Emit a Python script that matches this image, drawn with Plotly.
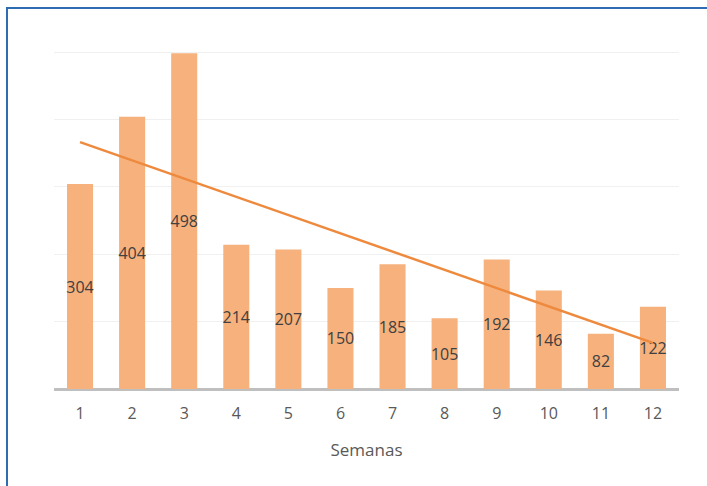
import numpy as np
import plotly.graph_objects as go

semanas = [1, 2, 3, 4, 5, 6, 7, 8, 9, 10, 11, 12]
valores = [304, 404, 498, 214, 207, 150, 185, 105, 192, 146, 82, 122]
tick_labels = [str(s) for s in semanas]

W, H = 707, 486
L, R, T, B = 54, 28, 51, 97
pw, ph = W - L - R, H - T - B

# linear trend from the data
coef = np.polyfit(semanas, valores, 1)
trend = [coef[0] * s + coef[1] for s in semanas]

fig = go.Figure()
fig.add_trace(go.Bar(
    x=semanas, y=valores, width=0.5,
    marker=dict(color="#F6B17D", line=dict(width=0)),
    text=[str(v) for v in valores], textposition="inside",
    insidetextanchor="middle", textangle=0, constraintext="none",
    textfont=dict(color="#404040", size=16, family="Open Sans"),
    showlegend=False, hoverinfo="skip", cliponaxis=False,
))
fig.add_trace(go.Scatter(
    x=semanas, y=trend, mode="lines",
    line=dict(color="#EE8A3E", width=2.5),
    showlegend=False, hoverinfo="skip",
))

def px_to_paper_x(px):
    return (px - L) / pw

def px_to_paper_y(py):
    return (H - B - py) / ph

fig.add_shape(type="rect", xref="paper", yref="paper",
              x0=px_to_paper_x(7), x1=px_to_paper_x(W + 10),
              y0=px_to_paper_y(H + 10), y1=px_to_paper_y(8),
              line=dict(color="#2F6DB3", width=2), fillcolor="rgba(0,0,0,0)",
              layer="above")

fig.update_layout(
    width=W, height=H,
    margin=dict(l=L, r=R, t=T, b=B, pad=0),
    paper_bgcolor="white", plot_bgcolor="white",
    font=dict(family="Open Sans", color="#595959"),
    xaxis=dict(
        range=[0.5, 12.5], tickmode="array", tickvals=semanas, ticktext=tick_labels,
        showgrid=False, zeroline=False, showline=False,
        tickfont=dict(size=16, color="#595959"), ticks="", ticklen=0,
        ticklabelstandoff=13,
        title=dict(text="Semanas", font=dict(size=17, color="#595959"), standoff=21),
    ),
    yaxis=dict(
        range=[0, 501.5], tickmode="array", tickvals=[100, 200, 300, 400, 500],
        showticklabels=False,
        showgrid=True, gridcolor="#F0F0F0", gridwidth=1,
        zeroline=True, zerolinecolor="#BFBFBF", zerolinewidth=2.5,
        showline=False,
    ),
)

fig.write_html("out.html")
